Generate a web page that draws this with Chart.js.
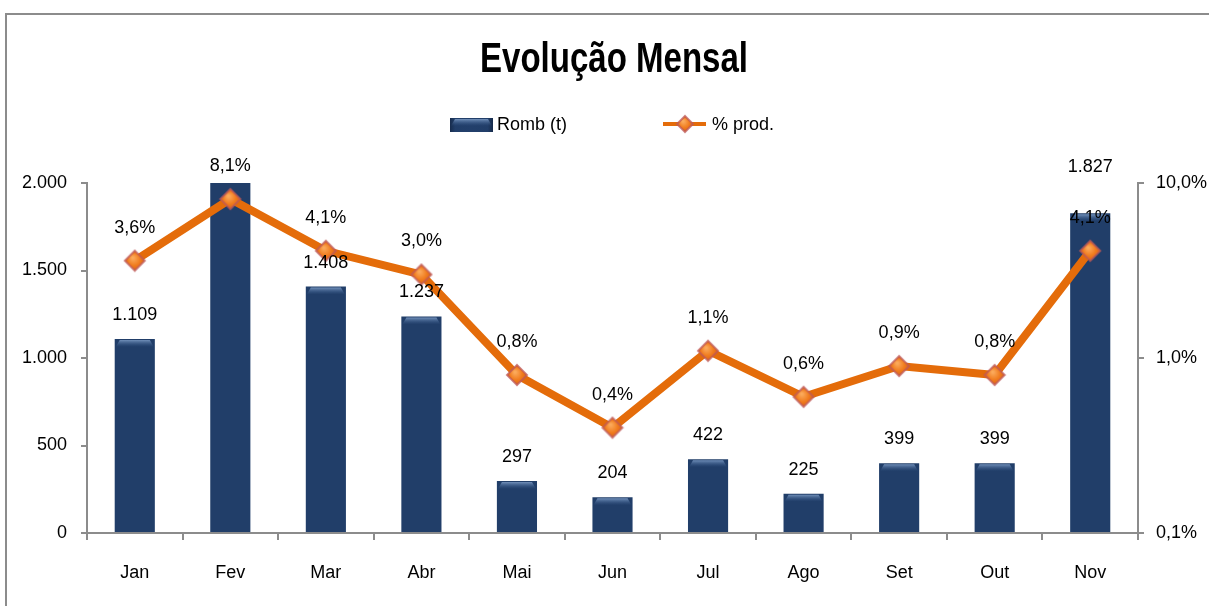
<!DOCTYPE html>
<html><head><meta charset="utf-8">
<script src="https://cdn.jsdelivr.net/npm/chart.js@4/dist/chart.umd.min.js"></script>
<style>html,body{margin:0;padding:0;background:#fff;}#wrap{width:1209px;height:606px;}</style>
</head><body><div id="wrap"><canvas id="c" width="1209" height="606"></canvas></div>
<script>
const categories = ['Jan','Fev','Mar','Abr','Mai','Jun','Jul','Ago','Set','Out','Nov'];
const rombValues = [1109, 2150, 1408, 1237, 297, 204, 422, 225, 399, 399, 1827];
const prodValues = [3.6, 8.1, 4.1, 3.0, 0.8, 0.4, 1.1, 0.6, 0.9, 0.8, 4.1];
const leftTicks = [0, 500, 1000, 1500, 2000];
const rightTicks = [0.1, 1, 10];
const titleText = 'Evolução Mensal';
const rombLabel = 'Romb (t)';
const prodLabel = '% prod.';

const FONT = '"Liberation Sans", Arial, sans-serif';
function fmtInt(v){ return String(Math.round(v)).replace(/\B(?=(\d{3})+(?!\d))/g,'.'); }
function fmtPct(v){ return v.toFixed(1).replace('.',',') + '%'; }

function barGrad(ctx, x0, x1){
  const g = ctx.createLinearGradient(x0,0,x1,0);
  g.addColorStop(0,'#172c4d'); g.addColorStop(0.12,'#213e69'); g.addColorStop(0.5,'#223f6b');
  g.addColorStop(0.88,'#213e69'); g.addColorStop(1,'#162a4a');
  return g;
}
function drawBevel(ctx, x0, x1, top, bottomLimit){
  const h = Math.min(8, bottomLimit - top);
  if (h <= 0) return;
  const g = ctx.createLinearGradient(0, top, 0, top+h);
  g.addColorStop(0,'rgba(140,170,210,0.95)'); g.addColorStop(1,'rgba(60,95,145,0)');
  ctx.fillStyle = g;
  ctx.beginPath();
  ctx.moveTo(x0+1, top+h); ctx.lineTo(x0+5, top+1); ctx.lineTo(x1-5, top+1); ctx.lineTo(x1-1, top+h); ctx.closePath();
  ctx.fill();
}

const decor = {
  id:'decor',
  beforeDraw(chart){
    const ctx = chart.ctx;
    ctx.save();
    ctx.strokeStyle = '#8c8c8c'; ctx.lineWidth = 2;
    ctx.beginPath(); ctx.moveTo(6, 700); ctx.lineTo(6, 14); ctx.lineTo(1300, 14); ctx.stroke();
    // title
    ctx.fillStyle = '#000';
    ctx.font = 'bold 43px ' + FONT;
    const w = ctx.measureText(titleText).width;
    const s = 268 / w;
    ctx.translate(614, 72); ctx.scale(s, 1);
    ctx.textAlign = 'center'; ctx.textBaseline = 'alphabetic';
    ctx.fillText(titleText, 0, 0);
    ctx.restore();
    // legend
    ctx.save();
    ctx.fillStyle = barGrad(ctx, 450, 493);
    ctx.fillRect(450, 118, 43, 14);
    drawBevel(ctx, 450, 493, 118, 132);
    ctx.font = '18px ' + FONT; ctx.fillStyle = '#000'; ctx.textBaseline = 'middle'; ctx.textAlign = 'left';
    ctx.fillText(rombLabel, 497, 125);
    ctx.strokeStyle = '#E46C0A'; ctx.lineWidth = 4;
    ctx.beginPath(); ctx.moveTo(663, 124); ctx.lineTo(706, 124); ctx.stroke();
    drawDiamond(ctx, 685, 124, 8);
    ctx.fillStyle = '#000';
    ctx.fillText(prodLabel, 712, 125);
    ctx.restore();
  },
  afterDatasetsDraw(chart){
    const ctx = chart.ctx;
    const area = chart.chartArea;
    const bars = chart.getDatasetMeta(0).data;
    ctx.save();
    ctx.beginPath(); ctx.rect(area.left, area.top, area.right-area.left, area.bottom-area.top); ctx.clip();
    bars.forEach(b => {
      const x0 = b.x - b.width/2, x1 = b.x + b.width/2;
      if (b.y >= area.top) drawBevel(ctx, x0, x1, b.y, b.base);
    });
    ctx.restore();
  },
  afterDraw(chart){
    const ctx = chart.ctx;
    const area = chart.chartArea;
    const bars = chart.getDatasetMeta(0).data;
    const pts = chart.getDatasetMeta(1).data;
    ctx.save();
    ctx.font = '18px ' + FONT; ctx.fillStyle = '#000';
    ctx.textAlign = 'center'; ctx.textBaseline = 'middle';
    pts.forEach((p,i) => {
      const ly = p.y - 33;
      ctx.fillText(fmtPct(prodValues[i]), p.x, ly);
      const b = bars[i];
      if (b.y >= area.top - 0.5 && rombValues[i] <= leftTicks[leftTicks.length-1] - 1) {
        let by = b.y - 24;
        if (Math.abs(by - ly) < 30) by = ly - 51;
        ctx.fillText(fmtInt(rombValues[i]), b.x, by);
      }
    });
    ctx.restore();
  }
};

function drawDiamond(ctx, x, y, r){
  ctx.save();
  const g = ctx.createRadialGradient(x-2, y-3, 1, x, y, r);
  g.addColorStop(0,'#FBA95A'); g.addColorStop(0.6,'#F07A1C'); g.addColorStop(1,'#D8641A');
  ctx.fillStyle = g;
  ctx.strokeStyle = 'rgba(190,90,90,0.75)'; ctx.lineWidth = 2;
  ctx.beginPath(); ctx.moveTo(x, y-r); ctx.lineTo(x+r, y); ctx.lineTo(x, y+r); ctx.lineTo(x-r, y); ctx.closePath();
  ctx.fill(); ctx.stroke();
  ctx.restore();
}

const diamondCanvas = (() => {
  const c = document.createElement('canvas'); c.width = 24; c.height = 24;
  drawDiamond(c.getContext('2d'), 12, 12, 10);
  return c;
})();

new Chart(document.getElementById('c'), {
  data: {
    labels: categories,
    datasets: [
      { type:'bar', label: rombLabel, data: rombValues, yAxisID:'y', order:2,
        backgroundColor: (c) => {
          const el = c.element; const ctx = c.chart.ctx;
          if (!el || !el.width) return '#213e69';
          return barGrad(ctx, el.x - el.width/2, el.x + el.width/2);
        },
        borderWidth:0, barPercentage:0.42, categoryPercentage:1 },
      { type:'line', label: prodLabel, data: prodValues, yAxisID:'y1', order:1,
        borderColor:'#E46C0A', borderWidth:8, tension:0, fill:false,
        pointStyle: diamondCanvas, pointRadius:12, pointHoverRadius:12 }
    ]
  },
  options: {
    responsive:false, animation:false, devicePixelRatio:1,
    layout:{ padding:{ top:183, left:0, right:0, bottom:0 } },
    plugins:{ legend:{display:false}, title:{display:false}, tooltip:{enabled:false} },
    scales:{
      x:{ grid:{ display:true, drawOnChartArea:false, offset:true, tickLength:7, color:'#8c8c8c', lineWidth:2 },
          border:{ color:'#8c8c8c', width:2 },
          ticks:{ font:{ size:18, family:FONT }, color:'#000', padding:22 },
          afterFit(s){ s.height = 73; } },
      y:{ position:'left', min:0, max:2000,
          afterBuildTicks(s){ s.ticks = leftTicks.map(v=>({value:v})); },
          grid:{ drawOnChartArea:false, tickLength:6, color:'#8c8c8c', lineWidth:2 },
          border:{ color:'#8c8c8c', width:2 },
          ticks:{ font:{ size:18, family:FONT }, color:'#000', padding:14, callback:(v)=>fmtInt(v) },
          afterFit(s){ s.width = 87; } },
      y1:{ type:'logarithmic', position:'right', min:0.1, max:10,
          afterBuildTicks(s){ s.ticks = rightTicks.map(v=>({value:v})); },
          grid:{ drawOnChartArea:false, tickLength:6, color:'#8c8c8c', lineWidth:2 },
          border:{ color:'#8c8c8c', width:2 },
          ticks:{ font:{ size:18, family:FONT }, color:'#000', padding:12, callback:(v)=>fmtPct(v) },
          afterFit(s){ s.width = 71; } }
    }
  },
  plugins:[decor]
});
</script></body></html>
